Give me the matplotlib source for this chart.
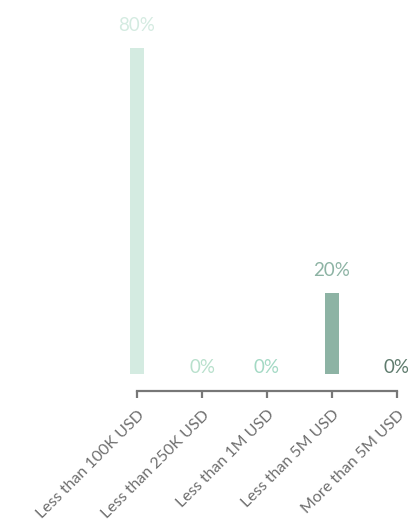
import matplotlib
matplotlib.use("Agg")
import matplotlib.pyplot as plt

categories = ["Less than 100K USD", "Less than 250K USD", "Less than 1M USD",
              "Less than 5M USD", "More than 5M USD"]
values = [80, 0, 0, 20, 0]
value_labels = ["80%", "0%", "0%", "20%", "0%"]
colors = ["#d4ebe1", "#b8e0cc", "#a3d9c4", "#8db3a4", "#5e7b6d"]

plt.rcParams['font.family'] = ['Lato', 'DejaVu Sans']

fig = plt.figure(figsize=(4.08, 5.32), dpi=100)
ax = fig.add_axes([137/408, (532-374)/532, (397-137)/408, (374-48)/532])

x = list(range(len(categories)))
bars = ax.bar(x, values, width=0.215, color=colors, clip_on=False)
ax.set_xlim(0, len(categories) - 1)
ax.set_ylim(0, 80)

for xi, v, lab, c in zip(x, values, value_labels, colors):
    off = 14 if v > 0 else -2
    ax.annotate(lab, (xi, v), xytext=(0, off), textcoords='offset pixels',
                ha='center', va='bottom', color=c, fontsize=13.5,
                annotation_clip=False)

for s in ['top', 'right', 'left']:
    ax.spines[s].set_visible(False)
ax.spines['bottom'].set_position(('outward', 12.2))
ax.spines['bottom'].set_color('#777777')
ax.spines['bottom'].set_linewidth(1.6)
ax.set_yticks([])
ax.set_xticks(x)
ax.set_xticklabels(categories, rotation=45, ha='right', rotation_mode='anchor',
                   fontsize=11.5, color='#6f6f6f')
ax.tick_params(axis='x', length=5, width=1.6, color='#777777', pad=7)

fig.savefig("out.png", dpi=100)
